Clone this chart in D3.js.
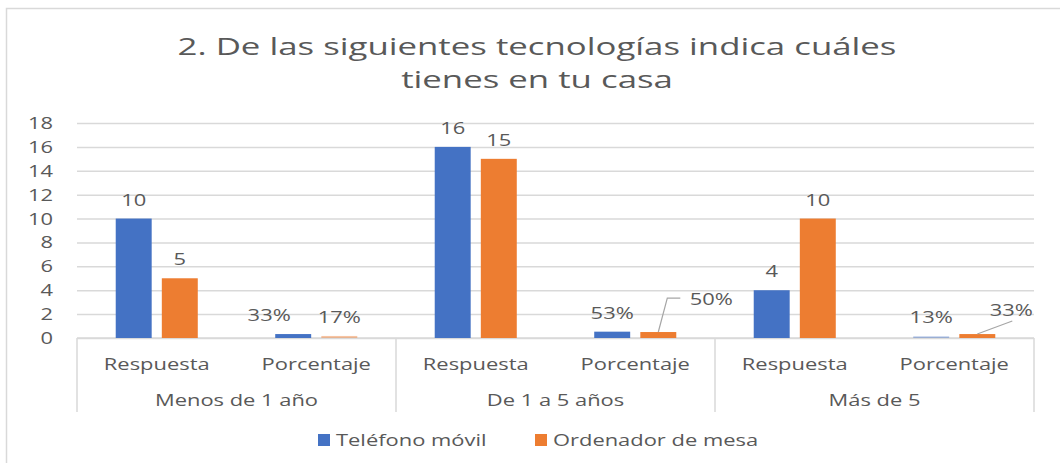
<!DOCTYPE html>
<html>
<head>
<meta charset="utf-8">
<script src="https://cdn.jsdelivr.net/npm/d3@7"></script>
<style>
  body { margin: 0; background: #fff; }
  text { font-family: "Open Sans", sans-serif; fill: #595959; }
</style>
</head>
<body>
<div id="chart"></div>
<script>
var titleLines = ["2. De las siguientes tecnologías indica cuáles", "tienes en tu casa"];
var groups = ["Menos de 1 año", "De 1 a 5 años", "Más de 5"];
var subcats = ["Respuesta", "Porcentaje"];
var seriesNames = ["Teléfono móvil", "Ordenador de mesa"];
var movil = [10, 0.33, 16, 0.53, 4, 0.13];
var ordenador = [5, 0.17, 15, 0.5, 10, 0.33];
var yTicks = [0, 2, 4, 6, 8, 10, 12, 14, 16, 18];

var colors = ["#4472c4", "#ed7d31"];
var SX = 1.37; // the picture is stretched sideways

var width = 1060, height = 463;
var margin = {top: 123, left: 77, right: 26, bottom: 125};
var plotBottom = height - margin.bottom;
var plotRight = width - margin.right;

var svg = d3.select("#chart").append("svg")
  .attr("width", width)
  .attr("height", height);

// chart frame
svg.append("rect")
  .attr("x", 6.5).attr("y", 8.5)
  .attr("width", 1080).attr("height", 480)
  .attr("fill", "none")
  .attr("stroke", "#d9d9d9")
  .attr("stroke-width", 1.5);

// stretched text helper
function label(parent, x, y, txt, size, anchor, sx) {
  return parent.append("g")
    .attr("transform", "translate(" + x + "," + y + ")scale(" + (sx || SX) + ",1)")
    .append("text")
    .attr("text-anchor", anchor || "middle")
    .style("font-size", size + "px")
    .text(txt);
}

titleLines.forEach(function(t, i) {
  label(svg, width / 2 + 7, 55 + i * 33, t, 24, "middle", 1.45);
});

var x0 = d3.scaleBand().domain(groups).range([margin.left, plotRight]);
var x1 = d3.scaleBand().domain(subcats).range([0, x0.bandwidth()]);
var x2 = d3.scaleBand().domain([0, 1]).range([0, x1.bandwidth()])
  .paddingInner(0.22).paddingOuter(0.84);
var y = d3.scaleLinear().domain([0, 18]).range([plotBottom, margin.top]);

// gridlines + y labels
svg.append("g")
  .attr("transform", "translate(" + margin.left + ",0)")
  .call(d3.axisLeft(y).tickValues(yTicks).tickSize(-(plotRight - margin.left)).tickFormat(""))
  .call(function(g) {
    g.select(".domain").remove();
    g.selectAll(".tick line").attr("stroke", "#d9d9d9").attr("stroke-width", 1.5);
  });

yTicks.forEach(function(t) {
  label(svg, 53, y(t) + 6, t, 16, "end");
});

// category axis
var axis = svg.append("g");
axis.append("line")
  .attr("x1", margin.left).attr("x2", plotRight)
  .attr("y1", plotBottom).attr("y2", plotBottom)
  .attr("stroke", "#d9d9d9").attr("stroke-width", 1.5);
var seps = groups.map(function(g) { return x0(g); }).concat([plotRight]);
seps.forEach(function(sx) {
  axis.append("line")
    .attr("x1", sx).attr("x2", sx)
    .attr("y1", plotBottom).attr("y2", plotBottom + 74)
    .attr("stroke", "#d9d9d9").attr("stroke-width", 1.5);
});
groups.forEach(function(g) {
  subcats.forEach(function(s) {
    label(axis, x0(g) + x1(s) + x1.bandwidth() / 2, plotBottom + 32, s, 16);
  });
  label(axis, x0(g) + x0.bandwidth() / 2, plotBottom + 68, g, 16);
});

// bars
var rows = [];
groups.forEach(function(g, gi) {
  subcats.forEach(function(s, si) {
    var k = gi * 2 + si;
    rows.push({group: g, sub: s, series: 0, value: movil[k], idx: k});
    rows.push({group: g, sub: s, series: 1, value: ordenador[k], idx: k});
  });
});

function barX(d) { return x0(d.group) + x1(d.sub) + x2(d.series); }

svg.selectAll(".bar")
  .data(rows)
  .enter().append("rect")
  .attr("class", "bar")
  .attr("x", barX)
  .attr("y", function(d) { return y(d.value); })
  .attr("width", x2.bandwidth())
  .attr("height", function(d) { return plotBottom - y(d.value); })
  .attr("fill", function(d) { return colors[d.series]; })
  .attr("fill-opacity", function(d) { return d.value < 0.2 ? 0.45 : 1; });

// data labels; some were moved by hand in the original, with leader lines
var fmtPct = d3.format(".0%");
var nudges = {
  "1-0": {dx: -24, dy: 0},
  "3-1": {dx: 53, dy: -14, leader: [[9, -34], [22, -34]]},
  "5-1": {dx: 34, dy: -5, leader: [[35, -13]]}
};
rows.forEach(function(d) {
  var cx = barX(d) + x2.bandwidth() / 2;
  var top = y(d.value);
  var ty = top - 13;
  var txt = d.sub === "Porcentaje" ? fmtPct(d.value) : d.value;
  var n = nudges[d.idx + "-" + d.series] || {dx: 0, dy: 0};
  if (n.leader) {
    var pts = [[cx, top]].concat(n.leader.map(function(p) { return [cx + p[0], top + p[1]]; }));
    svg.append("path")
      .attr("d", d3.line()(pts))
      .attr("fill", "none")
      .attr("stroke", "#a6a6a6")
      .attr("stroke-width", 1.2);
  }
  label(svg, cx + n.dx, ty + n.dy, txt, 16);
});

// legend
var legend = svg.append("g");
var legX = [318, 535];
seriesNames.forEach(function(name, i) {
  legend.append("rect")
    .attr("x", legX[i]).attr("y", 434)
    .attr("width", 12).attr("height", 12)
    .attr("fill", colors[i]);
  label(legend, legX[i] + 18, 446, name, 16, "start");
});
</script>
</body>
</html>
